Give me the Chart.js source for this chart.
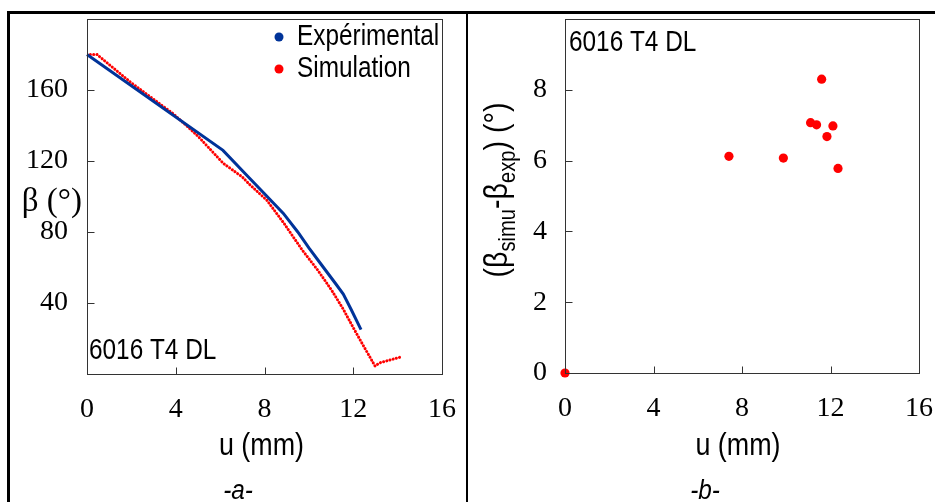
<!DOCTYPE html>
<html>
<head>
<meta charset="utf-8">
<script src="https://cdn.jsdelivr.net/npm/chart.js@4.4.1/dist/chart.umd.min.js"></script>
<style>
  body { margin: 0; background: #fff; }
  #wrap { position: relative; width: 935px; height: 502px; overflow: hidden; background: #fff; }
  canvas { position: absolute; top: 0; }
  .rule { position: absolute; background: #000; }
</style>
</head>
<body>
<div id="wrap">
  <canvas id="chartA" width="467" height="502" style="left:0"></canvas>
  <canvas id="chartB" width="468" height="502" style="left:467px"></canvas>
  <div class="rule" style="left:7px;top:11px;width:928px;height:3px"></div>
  <div class="rule" style="left:7px;top:11px;width:3px;height:491px"></div>
  <div class="rule" style="left:466px;top:11px;width:2px;height:491px"></div>
</div>
<script>
// panel a : beta vs u
const uExp    = [0, 6.13, 7.35, 8.0, 8.85, 9.5, 10.0, 10.6, 11.2, 11.55, 11.9, 12.35];
const betaExp = [180, 126, 110, 101.5, 90.5, 80, 71, 61, 51, 45, 36.5, 25];

const uSim    = [0.15, 0.45, 2.0, 3.9, 5.0, 6.14, 7.0, 7.35, 8.1, 8.9, 9.69, 10.4, 11.02, 11.55, 12.05, 12.5, 12.98, 13.2, 14.18];
const betaSim = [180, 180, 164, 146.5, 134, 118.7, 111, 106.5, 98, 84.5, 70, 58.5, 47.3, 36.5, 25, 15, 4.5, 6.3, 9.7];

// panel b : beta_simu - beta_exp
const uDiff = [0, 7.41, 9.87, 11.10, 11.37, 11.60, 11.84, 12.11, 12.34];
const dBeta = [0, 6.12, 6.07, 7.07, 7.01, 8.30, 6.68, 6.98, 5.78];

const xTicks  = [0, 4, 8, 12, 16];
const yTicksA = [40, 80, 120, 160];
const yTicksB = [0, 2, 4, 6, 8];

const BLUE = '#003399';
const RED = '#ff0000';
const AXIS = '#333';
const SANS = '"Liberation Sans", Arial, sans-serif';
const SERIF = '"Liberation Serif", "Times New Roman", serif';
const NARROW = 0.84;   // the sans text in the picture is condensed

function pts(xs, ys) {
    return xs.map((x, i) => ({ x: x, y: ys[i] }));
}

function scaleOpts(min, max, ticks, pad, fit) {
    return {
        type: 'linear',
        min: min,
        max: max,
        afterBuildTicks: s => { s.ticks = ticks.map(v => ({ value: v })); },
        afterFit: s => {
            fit(s);
            s.paddingLeft = s.paddingRight = s.paddingTop = s.paddingBottom = 0;
        },
        grid: { display: false, drawTicks: false },
        border: { display: false },
        ticks: {
            autoSkip: false,
            maxRotation: 0,
            padding: pad,
            color: '#000',
            font: { family: SERIF, size: 28 }
        }
    };
}

// box round the plot area and the small inner tick marks
function drawBox(chart) {
    const { ctx, chartArea: a, scales: { x, y } } = chart;
    const l = Math.round(a.left) + 0.5, t = Math.round(a.top) + 0.5;
    const r = Math.round(a.right) + 0.5, b = Math.round(a.bottom) + 0.5;
    ctx.save();
    ctx.strokeStyle = AXIS;
    ctx.lineWidth = 1;
    ctx.strokeRect(l, t, r - l, b - t);
    ctx.beginPath();
    x.ticks.forEach(tk => {
        if (tk.value <= x.min || tk.value >= x.max) return;
        const px = Math.round(x.getPixelForValue(tk.value)) + 0.5;
        ctx.moveTo(px, b);
        ctx.lineTo(px, b - 7);
    });
    y.ticks.forEach(tk => {
        if (tk.value <= y.min || tk.value >= y.max) return;
        const py = Math.round(y.getPixelForValue(tk.value)) + 0.5;
        ctx.moveTo(l, py);
        ctx.lineTo(l + 7, py);
    });
    ctx.stroke();
    ctx.restore();
}

function text(ctx, str, x, y, font, align, sx) {
    sx = sx || 1;
    ctx.save();
    ctx.font = font;
    ctx.textAlign = 'left';
    ctx.textBaseline = 'alphabetic';
    ctx.fillStyle = '#000';
    const w = ctx.measureText(str).width * sx;
    const x0 = align === 'center' ? x - w / 2 : (align === 'right' ? x - w : x);
    ctx.translate(x0, y);
    ctx.scale(sx, 1);
    ctx.fillText(str, 0, 0);
    ctx.restore();
}

const panelA = {
    id: 'panelA',
    afterDraw(chart) {
        const ctx = chart.ctx;
        const a = chart.chartArea;
        drawBox(chart);
        text(ctx, '\u03b2 (\u00b0)', 82, 211, '33px ' + SERIF, 'right');
        text(ctx, 'u (mm)', (a.left + a.right) / 2 - 3, 455, '32px ' + SANS, 'center', NARROW);
        text(ctx, '-a-', 238, 499, 'italic 27px ' + SANS, 'center', 0.9);
        text(ctx, '6016 T4 DL', 89, 359, '29px ' + SANS, 'left', NARROW);
        // legend
        chart.data.datasets.forEach((ds, i) => {
            const yy = 45 + i * 32;
            ctx.save();
            ctx.fillStyle = ds.borderColor;
            ctx.beginPath();
            ctx.arc(279, yy - 8, 4.5, 0, Math.PI * 2);
            ctx.fill();
            ctx.restore();
            text(ctx, ds.label, 297, yy, '29px ' + SANS, 'left', NARROW);
        });
    }
};

const panelB = {
    id: 'panelB',
    afterDraw(chart) {
        const ctx = chart.ctx;
        const a = chart.chartArea;
        drawBox(chart);
        text(ctx, '6016 T4 DL', 102, 51, '29px ' + SANS, 'left', NARROW);
        text(ctx, 'u (mm)', (a.left + a.right) / 2 - 4, 455, '32px ' + SANS, 'center', NARROW);
        text(ctx, '-b-', 238, 499, 'italic 27px ' + SANS, 'center', 0.9);

        // rotated y title with subscripts
        const main = '34px ' + SANS, sub = '24px ' + SANS;
        const parts = [
            ['(\u03b2', main, 0], ['simu', sub, 8], ['-\u03b2', main, 0],
            ['exp', sub, 8], [') (\u00b0)', main, 0]
        ];
        ctx.save();
        let total = 0;
        parts.forEach(p => { ctx.font = p[1]; p.push(ctx.measureText(p[0]).width * NARROW); total += p[3]; });
        ctx.translate(35, 190);
        ctx.rotate(-Math.PI / 2);
        ctx.textBaseline = 'alphabetic';
        ctx.textAlign = 'left';
        ctx.fillStyle = '#000';
        let cx = -total / 2;
        parts.forEach(p => {
            ctx.save();
            ctx.font = p[1];
            ctx.translate(cx, 5 + p[2]);
            ctx.scale(NARROW, 1);
            ctx.fillText(p[0], 0, 0);
            ctx.restore();
            cx += p[3];
        });
        ctx.restore();
    }
};

new Chart(document.getElementById('chartA'), {
    type: 'scatter',
    data: {
        datasets: [{
            label: 'Exp\u00e9rimental',
            data: pts(uExp, betaExp),
            showLine: true,
            borderColor: BLUE,
            backgroundColor: BLUE,
            borderWidth: 3,
            pointRadius: 0,
            clip: false
        }, {
            label: 'Simulation',
            data: pts(uSim, betaSim),
            showLine: true,
            borderColor: RED,
            backgroundColor: RED,
            borderWidth: 3,
            borderDash: [0.1, 3.2],
            borderCapStyle: 'round',
            pointRadius: 0,
            clip: false
        }]
    },
    options: {
        responsive: false,
        animation: false,
        devicePixelRatio: 1,
        layout: { padding: { left: 0, right: 25, top: 19, bottom: 0 } },
        plugins: { legend: { display: false }, tooltip: { enabled: false } },
        scales: {
            x: scaleOpts(0, 16, xTicks, 19, s => { s.height = 128; }),
            y: scaleOpts(0, 200, yTicksA, 19, s => { s.width = 87; })
        }
    },
    plugins: [panelA]
});

new Chart(document.getElementById('chartB'), {
    type: 'scatter',
    data: {
        datasets: [{
            label: '\u03b2simu - \u03b2exp',
            data: pts(uDiff, dBeta),
            borderColor: RED,
            backgroundColor: RED,
            pointRadius: 4.6,
            pointBorderWidth: 0,
            clip: false
        }]
    },
    options: {
        responsive: false,
        animation: false,
        devicePixelRatio: 1,
        layout: { padding: { left: 0, right: 16, top: 19, bottom: 0 } },
        plugins: { legend: { display: false }, tooltip: { enabled: false } },
        scales: {
            x: scaleOpts(0, 16, xTicks, 19, s => { s.height = 129; }),
            y: scaleOpts(0, 10, yTicksB, 18, s => { s.width = 98; })
        }
    },
    plugins: [panelB]
});
</script>
</body>
</html>
